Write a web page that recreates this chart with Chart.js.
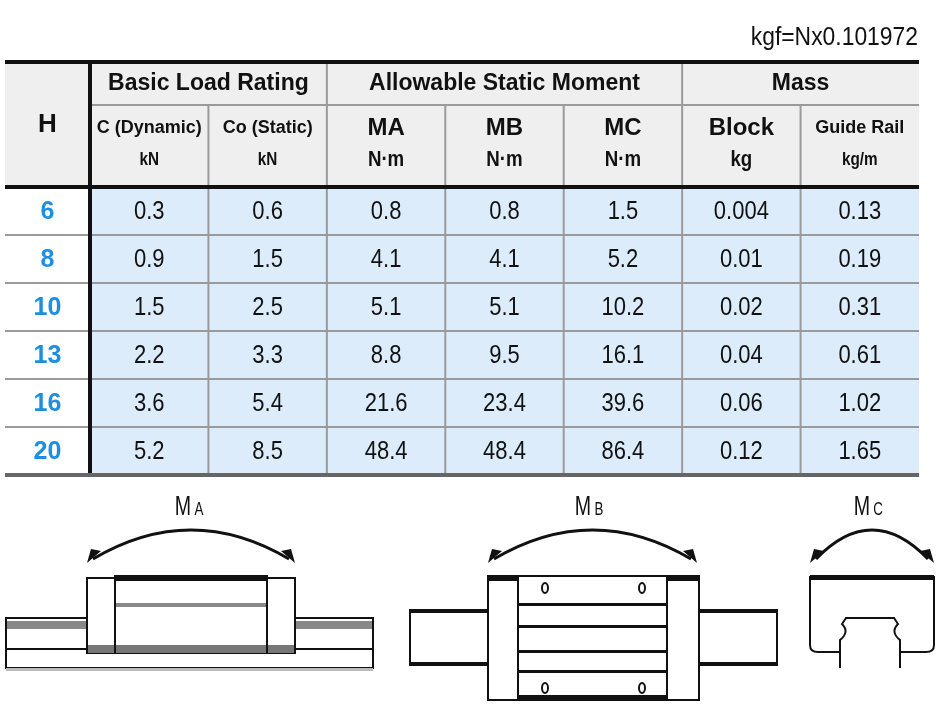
<!DOCTYPE html>
<html><head><meta charset="utf-8">
<script src="https://cdn.jsdelivr.net/npm/chart.js@4"></script>
<style>html,body{margin:0;padding:0;background:#fff}#w{width:945px;height:709px}</style>
</head><body><div id="w"><canvas id="c"></canvas></div>
<script>
const heights = ['6','8','10','13','16','20'];
const columns = ['C','Co','MA','MB','MC','Block','Rail'];
const colC = ['0.3','0.9','1.5','2.2','3.6','5.2'];
const colCo = ['0.6','1.5','2.5','3.3','5.4','8.5'];
const colMA = ['0.8','4.1','5.1','8.8','21.6','48.4'];
const colMB = ['0.8','4.1','5.1','9.5','23.4','48.4'];
const colMC = ['1.5','5.2','10.2','16.1','39.6','86.4'];
const colBlock = ['0.004','0.01','0.02','0.04','0.06','0.12'];
const colRail = ['0.13','0.19','0.31','0.61','1.02','1.65'];
const allCols = [colC,colCo,colMA,colMB,colMC,colBlock,colRail];
const groupHeaders = [['Basic Load Rating',0,1],['Allowable Static Moment',2,4],['Mass',5,6]];
const subHeaders = [['C (Dynamic)','kN'],['Co (Static)','kN'],['MA','N·m'],['MB','N·m'],['MC','N·m'],['Block','kg'],['Guide Rail','kg/m']];
const note = 'kgf=Nx0.101972';

const F = '"Liberation Sans",Arial,sans-serif';
const datasets = allCols.map((vals,ci)=>({label:columns[ci],data:vals.map((v,ri)=>({x:columns[ci],y:heights[ri],v})),showLine:false,pointRadius:0}));

function narrow(ctx,t,x,y,sx){ctx.save();ctx.translate(x,y);ctx.scale(sx,1);ctx.fillText(t,0,0);ctx.restore();}
const tablePlugin = {
  id:'table',
  beforeDatasetsDraw(chart){
    const {ctx,scales:{x,y},chartArea:a} = chart;
    const hw = (x.getPixelForValue(1)-x.getPixelForValue(0))/2;
    const hh = (y.getPixelForValue(1)-y.getPixelForValue(0))/2;
    const top = 62, hdrB = a.top, row1 = 105;
    ctx.save();
    ctx.fillStyle='#efefef'; ctx.fillRect(5,top,a.right-5,hdrB-top);
    ctx.fillStyle='#dcecfb'; ctx.fillRect(a.left,a.top,a.right-a.left,a.bottom-a.top);
    ctx.strokeStyle='#9a9a9a'; ctx.lineWidth=2;
    heights.forEach((h,i)=>{ if(i>0){const py=y.getPixelForValue(i)-hh; ctx.beginPath();ctx.moveTo(5,py);ctx.lineTo(a.right,py);ctx.stroke();}});
    ctx.beginPath();ctx.moveTo(a.left,row1);ctx.lineTo(a.right,row1);ctx.stroke();
    columns.forEach((c,i)=>{ if(i>0){const px=x.getPixelForValue(i)-hw; const isGroup=groupHeaders.some(g=>g[1]===i);
      ctx.beginPath();ctx.moveTo(px,isGroup?top:row1);ctx.lineTo(px,a.bottom);ctx.stroke();}});
    ctx.strokeStyle='#111'; ctx.lineWidth=4;
    ctx.beginPath();ctx.moveTo(5,top);ctx.lineTo(a.right,top);ctx.stroke();
    ctx.beginPath();ctx.moveTo(5,hdrB);ctx.lineTo(a.right,hdrB);ctx.stroke();
    ctx.beginPath();ctx.moveTo(a.left,top);ctx.lineTo(a.left,a.bottom);ctx.stroke();
    ctx.strokeStyle='#666'; ctx.beginPath();ctx.moveTo(5,a.bottom);ctx.lineTo(a.right,a.bottom);ctx.stroke();
    ctx.fillStyle='#111'; ctx.textAlign='center'; ctx.textBaseline='middle';
    ctx.font='bold 26px '+F; ctx.fillText('H',(5+a.left)/2,(top+hdrB)/2);
    ctx.font='bold 23px '+F;
    groupHeaders.forEach(g=>{const l=x.getPixelForValue(g[1])-hw, r=x.getPixelForValue(g[2])+hw; ctx.fillText(g[0],(l+r)/2,84,r-l-4);});
    subHeaders.forEach((s,i)=>{const cx=x.getPixelForValue(i); const big=i>=2&&i<=5;
      ctx.font=(big?'bold 24px ':'bold 18px ')+F; ctx.fillText(s[0],cx,128,2*hw-6);
      ctx.font=(big?'bold 22px ':'bold 18px ')+F; narrow(ctx,s[1],cx,160,0.85);});
    ctx.font='26px '+F; ctx.textAlign='right'; narrow(ctx,note,918,38,0.88);
    ctx.textAlign='center'; ctx.fillStyle='#1e8fe0'; ctx.font='bold 25px '+F;
    heights.forEach((h,i)=>ctx.fillText(h,(5+a.left)/2,y.getPixelForValue(i)+1));
    ctx.restore();
  },
  afterDatasetsDraw(chart){
    const {ctx}=chart; ctx.save(); ctx.fillStyle='#111'; ctx.font='25px '+F; ctx.textAlign='center'; ctx.textBaseline='middle';
    chart.data.datasets.forEach((ds,di)=>{chart.getDatasetMeta(di).data.forEach((p,i)=>narrow(ctx,ds.data[i].v,p.x,p.y+1,0.88));});
    ctx.restore();
    drawFigures(ctx);
  }
};
function arc(ctx,x1,x2,yEnd,yTop){
  ctx.beginPath();ctx.lineWidth=3;ctx.strokeStyle='#111';ctx.moveTo(x1+6,yEnd-4);ctx.quadraticCurveTo((x1+x2)/2,yTop-(yEnd-yTop)+4,x2-6,yEnd-4);ctx.stroke();
  [[x1,yEnd,1],[x2,yEnd,-1]].forEach(([px,py,d])=>{ctx.beginPath();ctx.fillStyle='#111';ctx.moveTo(px,py);ctx.lineTo(px+d*14,py-12);ctx.lineTo(px+d*4,py-14);ctx.closePath();ctx.fill();});
}
function rect(ctx,x,y,w,h,fill){ctx.fillStyle=fill||'#fff';ctx.fillRect(x,y,w,h);ctx.lineWidth=2;ctx.strokeStyle='#111';ctx.strokeRect(x,y,w,h);}
function drawFigures(ctx){
  ctx.save(); ctx.textAlign='center'; ctx.textBaseline='middle'; ctx.fillStyle='#111';
  ctx.font='28px '+F; narrow(ctx,'M',183,507,0.7); narrow(ctx,'M',583,507,0.7); narrow(ctx,'M',862,507,0.7);
  ctx.font='19px '+F; narrow(ctx,'A',199,510,0.7); narrow(ctx,'B',599,510,0.7); narrow(ctx,'C',878,510,0.7);
  arc(ctx,87,295,563,530); arc(ctx,488,697,563,530); arc(ctx,810,934,563,530);
  rect(ctx,6,618,367,50); ctx.fillStyle='#888'; ctx.fillRect(7,621,80,8); ctx.fillRect(296,621,76,8);
  ctx.fillStyle='#111'; ctx.fillRect(6,648,367,2); ctx.fillStyle='#bbb'; ctx.fillRect(6,668,367,3);
  rect(ctx,87,578,208,75); ctx.fillStyle='#777'; ctx.fillRect(88,645,206,8);
  ctx.fillStyle='#111'; ctx.fillRect(114,575,154,6); ctx.fillRect(114,578,2,75); ctx.fillRect(266,578,2,75);
  ctx.fillStyle='#888'; ctx.fillRect(116,603,150,4);
  rect(ctx,410,610,367,55); ctx.fillStyle='#111'; ctx.fillRect(410,610,367,3); ctx.fillRect(410,662,367,3);
  rect(ctx,488,576,211,124); ctx.fillStyle='#111'; ctx.fillRect(488,576,211,5);
  rect(ctx,518,576,149,124); ctx.fillStyle='#111'; ctx.fillRect(518,695,149,5);
  [603,625,650,670].forEach(py=>ctx.fillRect(518,py,149,3));
  ctx.lineWidth=2; [[545,588],[642,588],[545,688],[642,688]].forEach(([px,py])=>{ctx.beginPath();ctx.ellipse(px,py,3,5,0,0,7);ctx.stroke();});
  ctx.fillStyle='#fff'; ctx.strokeStyle='#111'; ctx.lineWidth=2;
  ctx.beginPath(); ctx.moveTo(810,577); ctx.lineTo(934,577); ctx.lineTo(934,645); ctx.quadraticCurveTo(934,652,926,652); ctx.lineTo(818,652); ctx.quadraticCurveTo(810,652,810,645); ctx.closePath(); ctx.fill(); ctx.stroke();
  ctx.fillStyle='#111'; ctx.fillRect(810,575,124,5);
  ctx.fillStyle='#fff'; ctx.beginPath(); ctx.moveTo(840,668); ctx.lineTo(840,640); ctx.quadraticCurveTo(850,632,842,624); ctx.lineTo(846,618); ctx.lineTo(894,618); ctx.lineTo(898,624); ctx.quadraticCurveTo(890,632,900,640); ctx.lineTo(900,668); ctx.fill(); ctx.stroke();
  ctx.restore();
}
new Chart(document.getElementById('c'),{
  type:'line',
  data:{datasets},
  options:{responsive:true,maintainAspectRatio:false,animation:false,
    layout:{padding:{top:187,bottom:234,left:5,right:26}},
    plugins:{legend:{display:false},tooltip:{enabled:false}},
    scales:{
      x:{type:'category',labels:columns,offset:true,display:false},
      y:{type:'category',labels:heights,offset:true,grid:{display:false},border:{display:false},
        afterFit(s){s.width=85;},ticks:{display:false}}
    }},
  plugins:[tablePlugin]
});
</script></body></html>
